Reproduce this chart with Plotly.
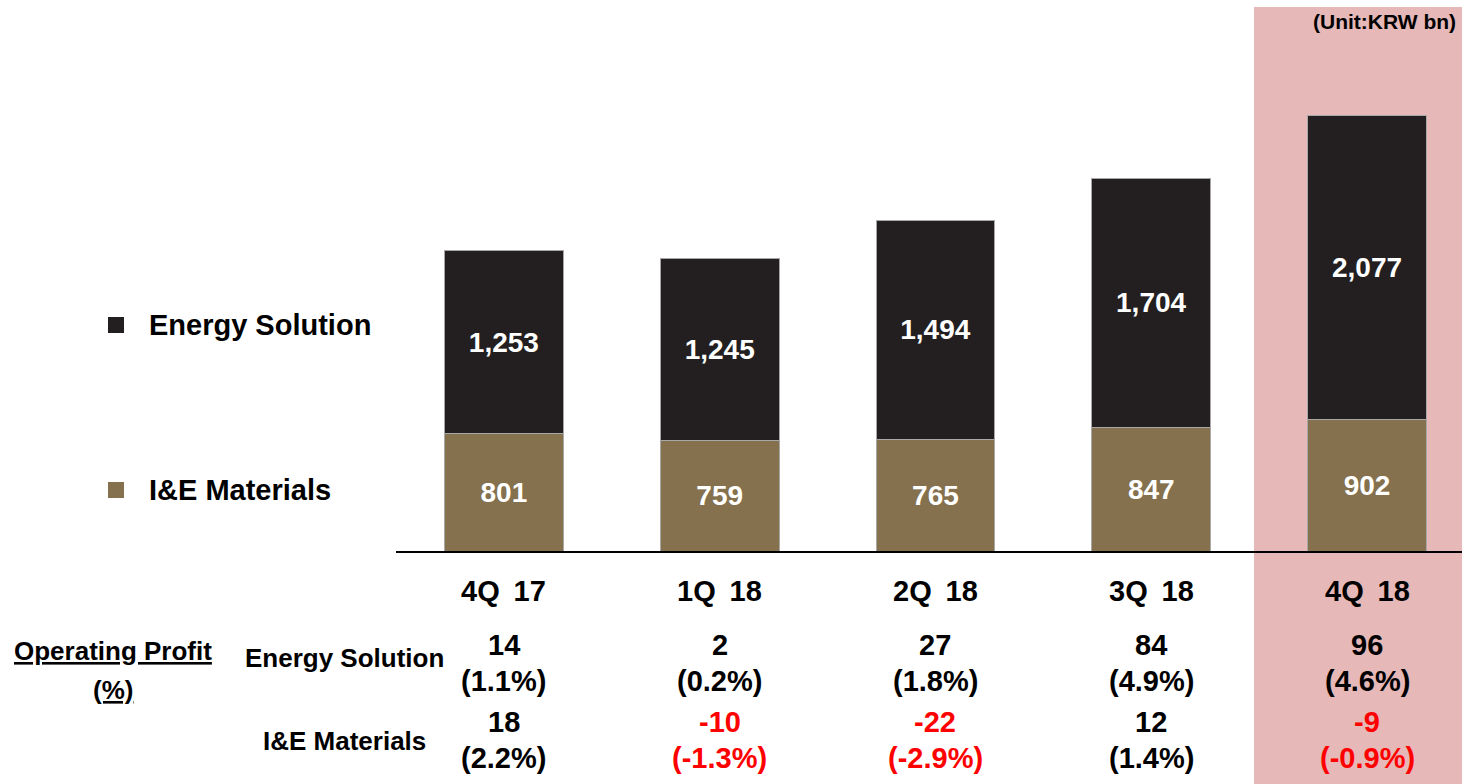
import plotly.graph_objects as go

# data (KRW bn)
quarters = ["4Q 17", "1Q 18", "2Q 18", "3Q 18", "4Q 18"]
energy_sales = [1253, 1245, 1494, 1704, 2077]
ie_sales = [801, 759, 765, 847, 902]
energy_op = [14, 2, 27, 84, 96]
energy_margin = [1.1, 0.2, 1.8, 4.9, 4.6]
ie_op = [18, -10, -22, 12, -9]
ie_margin = [2.2, -1.3, -2.9, 1.4, -0.9]

W, H = 1462, 784
FONT = "Arial, Liberation Sans, sans-serif"
ES_COLOR = "#231f20"
IE_COLOR = "#85714d"
HILITE = "#e6b8b7"
RED = "#ff0000"


def px_x(p):
    return p / W


def px_y(p):
    return (H - p) / H


fig = go.Figure()

fig.add_trace(go.Bar(
    x=quarters, y=ie_sales, name="I&E Materials",
    marker=dict(color=IE_COLOR, line=dict(color="#a8a8a8", width=1)),
    text=[f"<b>{v:,}</b>" for v in ie_sales],
    textposition="inside", insidetextanchor="middle",
    textfont=dict(color="white", size=28, family=FONT),
    width=0.55,
))
fig.add_trace(go.Bar(
    x=quarters, y=energy_sales, name="Energy Solution",
    marker=dict(color=ES_COLOR, line=dict(color="#a8a8a8", width=1)),
    text=[f"<b>{v:,}</b>" for v in energy_sales],
    textposition="inside", insidetextanchor="middle",
    textfont=dict(color="white", size=28, family=FONT),
    width=0.55,
))

# highlighted latest quarter
fig.add_shape(type="rect", xref="paper", yref="paper",
              x0=px_x(1254), x1=1, y0=0, y1=px_y(7),
              fillcolor=HILITE, line_width=0, layer="below")

annots = []


def txt(s, x, y, size=26, color="black", xref="paper", xanchor="center"):
    annots.append(dict(text=s, x=x, y=y, xref=xref, yref="paper", xanchor=xanchor,
                       yanchor="middle", showarrow=False,
                       font=dict(size=size, color=color, family=FONT)))


# legend squares + labels
for label, color, yc in [("Energy Solution", ES_COLOR, 325), ("I&E Materials", IE_COLOR, 490)]:
    fig.add_shape(type="rect", xref="paper", yref="paper",
                  x0=px_x(108), x1=px_x(124), y0=px_y(yc + 8), y1=px_y(yc - 8),
                  fillcolor=color, line_width=0)
    txt(f"<b>{label}</b>", px_x(147), px_y(yc), size=29, xanchor="left")

# operating profit table under the bars
for i, q in enumerate(quarters):
    txt("<b>" + q.replace(" ", " \u2009") + "</b>", q, px_y(591), size=29, xref="x")
    c = "black" if energy_op[i] >= 0 else RED
    txt(f"<b>{energy_op[i]}</b>", q, px_y(645), size=29, color=c, xref="x")
    txt(f"<b>({energy_margin[i]:.1f}%)</b>", q, px_y(681), size=29, color=c, xref="x")
    c = "black" if ie_op[i] >= 0 else RED
    txt(f"<b>{ie_op[i]}</b>", q, px_y(722), size=29, color=c, xref="x")
    txt(f"<b>({ie_margin[i]:.1f}%)</b>", q, px_y(758), size=29, color=c, xref="x")

txt("<b><u>Operating Profit</u></b>", px_x(113), px_y(651), size=26)
txt("<b><u>(%)</u></b>", px_x(113), px_y(690), size=26)
txt("<b>Energy Solution</b>", px_x(344), px_y(658), size=26)
txt("<b>I&E Materials</b>", px_x(344), px_y(741), size=26)
txt("<b>(Unit:KRW bn)</b>", px_x(1458), px_y(22), size=21, xanchor="right")

fig.update_layout(
    annotations=annots,
    barmode="stack",
    width=W, height=H,
    margin=dict(l=0, r=0, t=0, b=0),
    paper_bgcolor="white", plot_bgcolor="rgba(0,0,0,0)",
    showlegend=False,
    xaxis=dict(domain=[px_x(396), 1], range=[-0.5, 4.44], showticklabels=False,
               showline=True, linecolor="black", linewidth=1.5, ticks="",
               showgrid=False, zeroline=False),
    yaxis=dict(domain=[px_y(551), 1], range=[0, 551 / 0.1462], visible=False,
               showgrid=False, zeroline=False),
)

# drop the default page margin so the figure fills the window exactly
fig.write_html("out.html", config={"displayModeBar": False},
               post_script="document.body.style.margin='0';"
               "document.documentElement.style.overflow='hidden';")
